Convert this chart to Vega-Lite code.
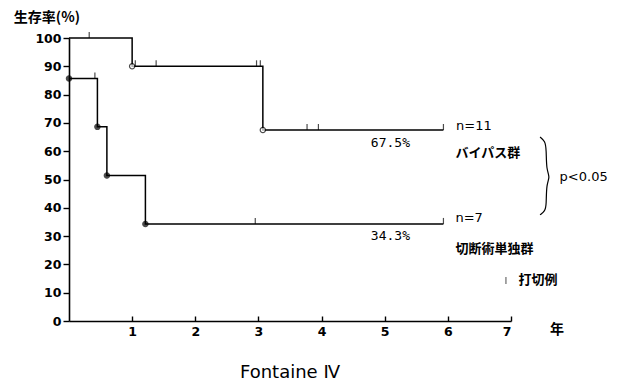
{
  "$schema": "https://vega.github.io/schema/vega-lite/v6.json",
  "width": 442,
  "height": 283,
  "autosize": {"type": "none"},
  "padding": {"left": 69, "top": 38, "right": 119, "bottom": 67},
  "background": "white",
  "config": {
    "view": {"stroke": null},
    "font": "DejaVu Sans",
    "axis": {
      "domainColor": "black", "domainWidth": 1.6, "tickColor": "black", "tickWidth": 1.4,
      "labelColor": "black", "labelFont": "DejaVu Sans", "labelFontSize": 12.5, "labelFontWeight": "bold",
      "grid": false, "title": null
    }
  },
  "datasets": {
    "curves": [
      {"group": "バイパス群", "t": 0, "s": 100},
      {"group": "バイパス群", "t": 1.0, "s": 90},
      {"group": "バイパス群", "t": 3.07, "s": 67.5},
      {"group": "バイパス群", "t": 5.93, "s": 67.5},
      {"group": "切断術単独群", "t": 0, "s": 85.7},
      {"group": "切断術単独群", "t": 0.45, "s": 68.6},
      {"group": "切断術単独群", "t": 0.6, "s": 51.4},
      {"group": "切断術単独群", "t": 1.21, "s": 34.3},
      {"group": "切断術単独群", "t": 5.93, "s": 34.3}
    ],
    "events": [
      {"group": "バイパス群", "t": 1.0, "s": 90},
      {"group": "バイパス群", "t": 3.07, "s": 67.5},
      {"group": "切断術単独群", "t": 0, "s": 85.7},
      {"group": "切断術単独群", "t": 0.45, "s": 68.6},
      {"group": "切断術単独群", "t": 0.6, "s": 51.4},
      {"group": "切断術単独群", "t": 1.21, "s": 34.3}
    ],
    "censored": [
      {"group": "バイパス群", "t": 0.32, "s": 100},
      {"group": "バイパス群", "t": 1.05, "s": 90},
      {"group": "バイパス群", "t": 1.38, "s": 90},
      {"group": "バイパス群", "t": 2.97, "s": 90},
      {"group": "バイパス群", "t": 3.03, "s": 90},
      {"group": "バイパス群", "t": 3.77, "s": 67.5},
      {"group": "バイパス群", "t": 3.95, "s": 67.5},
      {"group": "バイパス群", "t": 5.93, "s": 67.5},
      {"group": "切断術単独群", "t": 0.41, "s": 85.7},
      {"group": "切断術単独群", "t": 2.95, "s": 34.3},
      {"group": "切断術単独群", "t": 5.93, "s": 34.3}
    ],
    "labels": [
      {"t": 6.12, "s": 59.5, "text": "バイパス群"},
      {"t": 6.12, "s": 25.6, "text": "切断術単独群"},
      {"t": 7.12, "s": 14.4, "text": "打切例"}
    ],
    "notes": [
      {"t": 6.13, "s": 68.9, "text": "n=11"},
      {"t": 7.77, "s": 50.9, "text": "p<0.05"},
      {"t": 6.12, "s": 36.4, "text": "n=7"}
    ],
    "pct": [
      {"t": 5.09, "s": 62.9, "text": "67.5%"},
      {"t": 5.09, "s": 30.0, "text": "34.3%"}
    ],
    "brace": [
      {"i": 0, "t": 7.46, "s": 65.0},
      {"i": 1, "t": 7.54, "s": 63.6},
      {"i": 2, "t": 7.56, "s": 60.5},
      {"i": 3, "t": 7.56, "s": 53.4},
      {"i": 4, "t": 7.62, "s": 50.9},
      {"i": 5, "t": 7.56, "s": 48.4},
      {"i": 6, "t": 7.56, "s": 41.0},
      {"i": 7, "t": 7.54, "s": 38.9},
      {"i": 8, "t": 7.46, "s": 37.5}
    ],
    "legendTick": [{"t": 6.92, "s": 14.3}],
    "extra": [
      {"t": -0.35, "s": 107, "text": "生存率(%)"},
      {"t": 7.73, "s": -3.3, "text": "年"}
    ],
    "caption": [{"t": 3.5, "s": -18.5, "text": "Fontaine Ⅳ"}]
  },
  "encoding": {
    "x": {"field": "t", "type": "quantitative", "scale": {"domain": [0, 7], "nice": false},
          "axis": {"values": [1, 2, 3, 4, 5, 6, 7], "format": "d", "tickSize": -5, "labelPadding": 9}},
    "y": {"field": "s", "type": "quantitative", "scale": {"domain": [0, 100], "nice": false},
          "axis": {"values": [0, 10, 20, 30, 40, 50, 60, 70, 80, 90, 100], "format": "d", "tickSize": 6, "labelPadding": 2}}
  },
  "layer": [
    {
      "data": {"name": "curves"},
      "mark": {"type": "line", "interpolate": "step-after", "color": "black", "strokeWidth": 1.5},
      "encoding": {"detail": {"field": "group"}}
    },
    {
      "data": {"name": "censored"},
      "mark": {"type": "tick", "orient": "vertical", "color": "black", "size": 6, "thickness": 1.2, "yOffset": -3},
      "encoding": {}
    },
    {
      "data": {"name": "events"},
      "mark": {"type": "point", "shape": "circle", "size": 28, "stroke": "black", "strokeWidth": 1.2, "filled": false},
      "encoding": {
        "fill": {"field": "group", "type": "nominal", "scale": {"domain": ["バイパス群", "切断術単独群"], "range": ["white", "black"]}, "legend": null}
      }
    },
    {
      "data": {"name": "brace"},
      "mark": {"type": "line", "color": "black", "strokeWidth": 1.2, "interpolate": "basis", "clip": false},
      "encoding": {"order": {"field": "i", "type": "quantitative"}}
    },
    {
      "data": {"name": "legendTick"},
      "mark": {"type": "tick", "orient": "vertical", "color": "black", "size": 7, "thickness": 1, "clip": false},
      "encoding": {}
    },
    {
      "data": {"name": "labels"},
      "mark": {"type": "text", "align": "left", "baseline": "middle", "font": "Noto Sans CJK JP", "fontSize": 13, "fontWeight": "bold", "color": "black"},
      "encoding": {"text": {"field": "text"}}
    },
    {
      "data": {"name": "notes"},
      "mark": {"type": "text", "align": "left", "baseline": "middle", "font": "DejaVu Sans", "fontSize": 13, "color": "black"},
      "encoding": {"text": {"field": "text"}}
    },
    {
      "data": {"name": "pct"},
      "mark": {"type": "text", "align": "center", "baseline": "middle", "font": "DejaVu Sans Mono", "fontSize": 13, "color": "black"},
      "encoding": {"text": {"field": "text"}}
    },
    {
      "data": {"name": "extra"},
      "mark": {"type": "text", "align": "center", "baseline": "middle", "font": "Noto Sans CJK JP", "fontSize": 14, "fontWeight": "bold", "color": "black"},
      "encoding": {"text": {"field": "text"}}
    },
    {
      "data": {"name": "caption"},
      "mark": {"type": "text", "align": "center", "baseline": "middle", "font": "DejaVu Sans", "fontSize": 18, "color": "black"},
      "encoding": {"text": {"field": "text"}}
    }
  ]
}
